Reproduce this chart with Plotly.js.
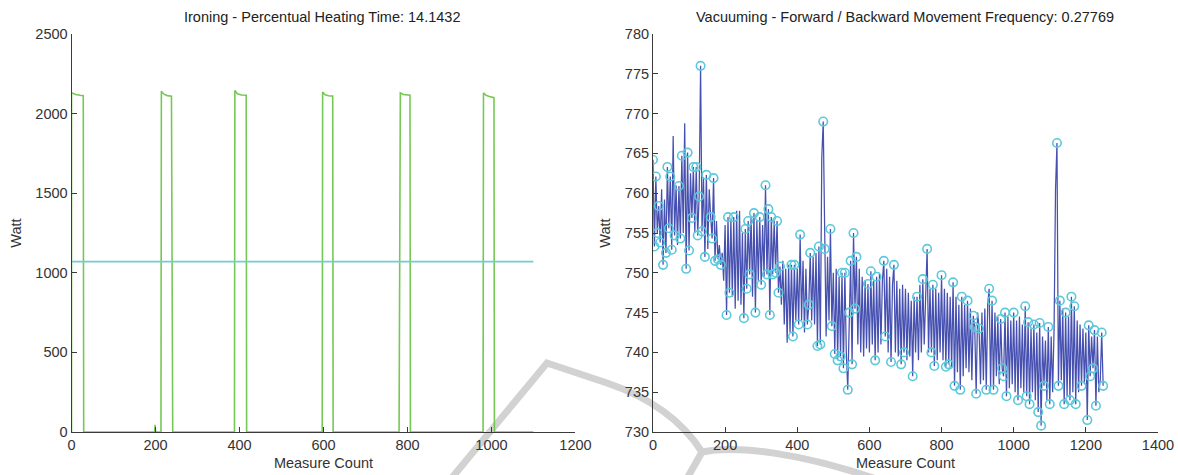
<!DOCTYPE html>
<html>
<head>
<meta charset="utf-8">
<script src="https://cdn.plot.ly/plotly-3.0.1.min.js"></script>
<style>html,body{margin:0;padding:0;background:#fff;}#chart{width:1178px;height:475px;}</style>
</head>
<body>
<div id="chart"></div>
<script>
// ---------- Ironing (left) ----------
const ironTitle = "Ironing - Percentual Heating Time: 14.1432";
const ironX = [0, 0, 3, 10, 20, 28, 29, 198, 199, 200, 213, 214, 220, 228, 238, 239, 240, 241, 388, 389, 395, 405, 416, 417, 597, 598, 604, 612, 622, 623, 780, 780.5, 781, 782.5, 783, 790, 798, 806, 807, 980, 981, 987, 995, 1006, 1007, 1100];
const ironW = [0, 2130, 2128, 2120, 2115, 2113, 0, 0, 45, 0, 0, 2140, 2122, 2113, 2110, 1290, 1290, 0, 0, 2145, 2125, 2117, 2115, 0, 0, 2135, 2118, 2112, 2110, 0, 0, 810, 1690, 1700, 2130, 2120, 2117, 2115, 0, 0, 2130, 2115, 2108, 2100, 0, 0];
const ironMeanX = [0, 1100];
const ironMean = [1070, 1070];

// ---------- Vacuuming (right) ----------
const vacTitle = "Vacuuming - Forward / Backward Movement Frequency: 0.27769";
const vacStep = 4; // measure counts between listed samples
const vacW = [
 764.2,753.3,762.1,755.0,758.4,753.8,760.5,751.0,759.2,752.5,
 763.3,755.6,762.1,752.9,767.2,754.7,761.0,753.5,760.9,754.3,
 764.7,755.0,768.8,750.5,765.1,752.8,762.5,756.9,763.3,755.0,
 763.3,754.7,759.6,776.0,755.2,762.0,752.0,762.3,753.0,760.5,
 757.0,754.3,761.9,751.5,756.5,751.7,753.5,751.0,752.5,749.0,
 756.0,744.7,757.0,747.5,756.8,747.0,757.0,745.5,757.8,746.5,
 757.8,746.0,755.0,744.3,755.5,748.0,756.5,749.8,757.0,747.0,
 757.5,745.0,756.5,749.0,757.0,748.5,756.0,749.5,761.0,749.8,
 758.0,744.7,757.0,749.8,756.5,750.0,756.5,747.5,750.8,746.0,
 751.5,743.5,750.5,741.2,751.0,742.5,751.0,742.0,751.0,744.0,
 750.5,743.5,754.8,744.0,751.5,742.5,750.5,743.5,746.0,752.5,
 744.0,752.0,743.5,752.5,740.8,753.3,741.0,764.5,769.0,753.0,
 742.0,752.0,744.0,755.5,743.3,750.0,739.8,750.5,739.0,749.5,
 739.5,750.0,738.0,750.0,740.0,735.3,745.0,751.5,738.5,755.0,
 745.5,752.0,741.0,750.5,740.0,749.5,739.5,749.0,740.5,748.6,
 740.0,750.2,741.0,749.0,739.0,749.5,740.0,750.0,741.0,749.0,
 751.5,742.0,750.5,740.0,749.5,738.8,748.5,751.0,740.0,749.0,
 739.5,748.0,738.5,748.5,740.0,748.0,739.0,747.5,739.5,746.5,
 737.0,747.0,740.0,747.0,739.0,748.5,740.0,749.2,741.0,748.0,
 753.0,740.0,748.0,740.0,748.5,738.3,748.0,739.0,747.5,740.0,
 749.7,739.0,748.0,738.2,747.5,738.5,747.0,738.0,748.8,735.8,
 747.0,737.5,746.0,735.3,747.0,737.0,746.0,738.0,746.5,737.5,
 745.5,736.5,744.6,743.2,734.8,745.0,743.0,736.0,745.0,736.5,
 745.5,735.3,746.0,748.0,735.5,746.5,735.3,745.0,737.0,744.5,
 736.0,744.2,738.0,737.0,745.0,734.5,744.5,735.5,744.0,736.0,
 745.0,735.0,744.0,734.0,744.5,735.5,743.5,735.0,745.8,734.5,
 743.8,733.5,743.0,735.0,743.5,734.0,742.5,732.5,743.7,730.8,
 742.0,735.8,741.5,734.0,743.2,733.5,742.0,735.0,743.0,760.5,
 766.3,735.8,746.5,736.5,745.5,733.5,745.0,734.5,744.5,734.0,
 747.0,735.0,745.8,733.5,744.0,735.0,743.5,735.8,743.0,736.0,
 742.5,731.5,743.4,737.0,742.0,738.0,742.8,733.3,742.0,735.0,736.5,742.5,735.8
];
// indices of the samples marked as detected turning points
const vacMarkIdx = [
 0,1,2,3,4,5,7,9, 10,11,12,13,15,18,19, 20,23,24,25,27,28, 30,31,32,33,34,36,37,
 40,41,42,43,45,47, 51,52,53,56, 63,64,65,66,67, 70,71,74,75,78,79,
 80,81,82,83,85,86,87,88, 96,97,98, 101,102,107,108,109, 114,115,116,118,119,
 123,124,126,128, 130,131,132,133,135,136,137,138,139, 140,141,149, 151,154,155,
 160,161,165,167, 172,174, 180,183,187, 190,193,194,195, 200,203,205,208,209,
 213,214,218, 222,223,224,226, 231,233,235,236, 241,242,243,244,245,
 250,253,258,259, 260,261,264,267,268,269, 271,274,275, 280,281,282,285,286,289,
 290,292,293,297, 301,302,303,305,306,307,311,312
];

const vacX = vacW.map((_, i) => i * vacStep);
const markX = vacMarkIdx.map(i => vacX[i]);
const markY = vacMarkIdx.map(i => vacW[i]);

const fontFam = "Liberation Sans, Arial, Helvetica, sans-serif";
const axisCol = "#3a3a3a";

const traces = [
  {x: ironX, y: ironW, type: "scatter", mode: "lines", xaxis: "x", yaxis: "y",
   line: {color: "rgb(118,200,84)", width: 1.6}, hoverinfo: "skip"},
  {x: ironMeanX, y: ironMean, type: "scatter", mode: "lines", xaxis: "x", yaxis: "y",
   line: {color: "rgb(112,204,214)", width: 1.6}, hoverinfo: "skip"},
  {x: vacX, y: vacW, type: "scatter", mode: "lines", xaxis: "x2", yaxis: "y2",
   line: {color: "rgb(70,80,176)", width: 1.25}, hoverinfo: "skip"},
  {x: markX, y: markY, type: "scatter", mode: "markers", xaxis: "x2", yaxis: "y2",
   marker: {symbol: "circle-open", size: 8.5, color: "rgb(92,200,220)", line: {width: 1.6, color: "rgb(92,200,220)"}},
   hoverinfo: "skip"}
];

function axisBase(extra) {
  return Object.assign({
    showgrid: false, zeroline: false, showline: true, linecolor: axisCol, linewidth: 1,
    mirror: false, ticks: "inside", ticklen: 5, tickcolor: axisCol, tickwidth: 1,
    tickfont: {family: fontFam, size: 14.5, color: "#333"}
  }, extra);
}
const axTitleFont = {family: fontFam, size: 14.5, color: "#333"};

const H = 475, T = 34, B = 43, W = 1178;
function px(x, y) { return (x / W).toFixed(5) + "," + ((H - B - y) / (H - T - B)).toFixed(5); }
const wmColor = "rgb(210,210,210)";

const layout = {
  width: 1178, height: 475,
  margin: {l: 0, r: 0, t: T, b: B},
  paper_bgcolor: "#fff", plot_bgcolor: "rgba(0,0,0,0)",
  showlegend: false,
  font: {family: fontFam, color: "#333"},
  xaxis: axisBase({domain: [0.0607, 0.4885], range: [0, 1200], tickvals: [0,200,400,600,800,1000,1200],
    anchor: "y", title: {text: "Measure Count", standoff: 5, font: axTitleFont}}),
  yaxis: axisBase({domain: [0, 1], range: [0, 2500], tickvals: [0,500,1000,1500,2000,2500],
    anchor: "x", title: {text: "Watt", standoff: 10, font: axTitleFont}}),
  xaxis2: axisBase({domain: [0.5543, 0.9830], range: [0, 1400], tickvals: [0,200,400,600,800,1000,1200,1400],
    anchor: "y2", title: {text: "Measure Count", standoff: 5, font: axTitleFont}}),
  yaxis2: axisBase({domain: [0, 1], range: [730, 780], tickvals: [730,735,740,745,750,755,760,765,770,775,780],
    anchor: "x2", title: {text: "Watt", standoff: 10, font: axTitleFont}}),
  annotations: [
    {text: ironTitle, xref: "paper", yref: "paper", x: 322 / W, y: (H - B - 17) / (H - T - B),
     xanchor: "center", yanchor: "middle", showarrow: false, font: {family: fontFam, size: 14.5, color: "#222"}},
    {text: vacTitle, xref: "paper", yref: "paper", x: 905 / W, y: (H - B - 17) / (H - T - B),
     xanchor: "center", yanchor: "middle", showarrow: false, font: {family: fontFam, size: 14.5, color: "#222"}}
  ],
  shapes: [
    {type: "path", xref: "paper", yref: "paper", layer: "below",
     path: "M" + px(450, 480) + " L" + px(547, 363) + " L" + px(607, 383) + " Q" + px(672, 405) + " " + px(702, 452),
     line: {color: wmColor, width: 7}},
    {type: "path", xref: "paper", yref: "paper", layer: "below",
     path: "M" + px(702, 452) + " L" + px(685, 482),
     line: {color: wmColor, width: 7}},
    {type: "path", xref: "paper", yref: "paper", layer: "below",
     path: "M" + px(702, 452) + " C" + px(735, 445) + " " + px(800, 452) + " " + px(885, 482),
     line: {color: wmColor, width: 7}}
  ]
};

Plotly.newPlot("chart", traces, layout, {staticPlot: true, displayModeBar: false});
</script>
</body>
</html>
